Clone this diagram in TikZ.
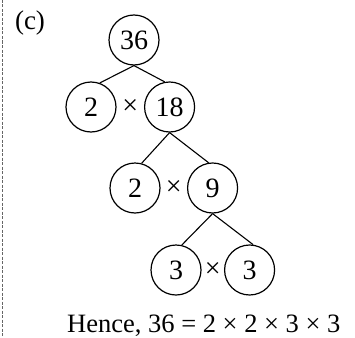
\documentclass[tikz,border=0pt]{standalone}
\usepackage{fontspec}
\setmainfont{Liberation Serif}
\usetikzlibrary{positioning}

\begin{document}
\begin{tikzpicture}[
    x=1pt,y=1pt,
    num/.style={circle,draw=black,line width=1.2pt,minimum size=50pt,inner sep=0pt,font=\fontsize{28}{32}\selectfont},
    mul/.style={inner sep=0pt,font=\fontsize{28}{32}\selectfont},
    branch/.style={line width=1.1pt},
    margin/.style={draw=black!60,dashed,line width=1pt,dash pattern=on 3pt off 1.5pt}
  ]
  \useasboundingbox (0,0) rectangle (355,-337);
  \draw[margin] (2,0) -- (2,-337);
  \node[mul,font=\fontsize{27}{32}\selectfont] (part) at (30,-23) {(c)};

  % factor tree
  \node[num] (n36) at (134,-40) {36};
  \node[num] (a2) at (91,-107) {2};
  \node[mul,right=5.6pt of a2] (x1) {×};
  \node[num,right=5.6pt of x1] (a18) {18};
  \node[num] (b2) at (135,-188) {2};
  \node[mul,right=5.1pt of b2] (x2) {×};
  \node[num,right=5.1pt of x2] (b9) {9};
  \node[num] (c3) at (176,-270) {3};
  \node[mul,right=3.1pt of c3] (x3) {×};
  \node[num,right=3.1pt of x3] (d3) {3};

  \node[anchor=base west,inner sep=0pt,font=\fontsize{26.5}{31}\selectfont] (result) at (67,-332)
    {Hence, 36 = 2 × 2 × 3 × 3};

  % branches
  \draw[branch] (n36.south) -- (a2.70);
  \draw[branch] (n36.south) -- (a18.101);
  \draw[branch] (a18.south) -- (b2.75);
  \draw[branch] (a18.south) -- (b9.99);
  \draw[branch] (b9.south) -- (c3.77);
  \draw[branch] (b9.south) -- (d3.82);
\end{tikzpicture}
\end{document}
